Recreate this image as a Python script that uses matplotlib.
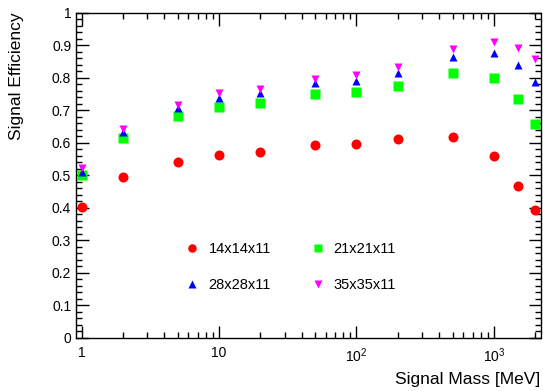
import matplotlib
matplotlib.use('Agg')
import matplotlib.pyplot as plt
from matplotlib.ticker import FixedLocator, LogLocator, MultipleLocator, NullFormatter

plt.rcParams['font.family'] = ['Liberation Sans', 'DejaVu Sans']
plt.rcParams['mathtext.fontset'] = 'custom'
plt.rcParams['mathtext.rm'] = 'Liberation Sans'
plt.rcParams['mathtext.it'] = 'Liberation Sans'

# signal mass points [MeV]
mass = [1, 2, 5, 10, 20, 50, 100, 200, 500, 1000, 1500, 2000]

# efficiency per detector size
eff_14 = [0.402, 0.495, 0.542, 0.562, 0.570, 0.593, 0.595, 0.610, 0.618, 0.559, 0.468, 0.394]
eff_21 = [0.500, 0.614, 0.683, 0.711, 0.723, 0.751, 0.757, 0.775, 0.815, 0.800, 0.735, 0.657]
eff_28 = [0.510, 0.634, 0.706, 0.738, 0.754, 0.783, 0.791, 0.815, 0.865, 0.877, 0.839, 0.786]
eff_35 = [0.522, 0.642, 0.716, 0.752, 0.764, 0.796, 0.808, 0.834, 0.887, 0.909, 0.890, 0.857]

labels = ['14x14x11', '21x21x11', '28x28x11', '35x35x11']
xticks = [1, 10, 100, 1000]
xticklabels = ['1', '10', '$10^{2}$', '$10^{3}$']

fig = plt.figure(figsize=(5.43, 3.91), dpi=100)
ax = fig.add_axes([76/543, 53.3/391, 464.5/543, 325/391])

h14, = ax.plot(mass, eff_14, 'o', color='#ff0000', ms=7.2, mec='none', label=labels[0])
h21, = ax.plot(mass, eff_21, 's', color='#00ff00', ms=7.2, mec='none', label=labels[1])
h28, = ax.plot(mass, eff_28, '^', color='#0000ff', ms=6.4, mec='none', label=labels[2])
h35, = ax.plot(mass, eff_35, 'v', color='#ff00ff', ms=6.4, mec='none', label=labels[3])

ax.set_xscale('log')
ax.set_xlim(0.912, 2180)
ax.set_ylim(0, 1)

ax.xaxis.set_major_locator(FixedLocator(xticks))
ax.set_xticklabels(xticklabels)
ax.xaxis.set_minor_locator(LogLocator(base=10, subs=range(2, 10)))
ax.xaxis.set_minor_formatter(NullFormatter())
ax.yaxis.set_major_locator(MultipleLocator(0.1))
ax.yaxis.set_minor_locator(MultipleLocator(0.02))
ax.set_yticks([i/10 for i in range(11)])
ax.set_yticklabels(['0', '0.1', '0.2', '0.3', '0.4', '0.5', '0.6', '0.7', '0.8', '0.9', '1'])

ax.tick_params(which='both', direction='in', top=True, right=True, labelsize=10, width=1)
ax.tick_params(which='major', length=9)
ax.tick_params(which='minor', length=4.5)
ax.tick_params(axis='x', pad=6)
for s in ax.spines.values():
    s.set_linewidth(1)

ax.set_xlabel('Signal Mass [MeV]', loc='right', fontsize=12.5)
ax.xaxis.set_label_coords(1.0, -0.105)
ax.set_ylabel('Signal Efficiency', loc='top', fontsize=12.5)
ax.yaxis.set_label_coords(-0.112, 1.0)

ax.legend([h14, h28, h21, h35], [labels[0], labels[2], labels[1], labels[3]],
          ncol=2, frameon=False, fontsize=10.5, loc='center',
          bbox_to_anchor=(0.462, 0.218), handlelength=1.0, handletextpad=0.6,
          labelspacing=1.5, columnspacing=2.7, borderpad=0, markerscale=0.85)

fig.savefig('out.png', dpi=100)
